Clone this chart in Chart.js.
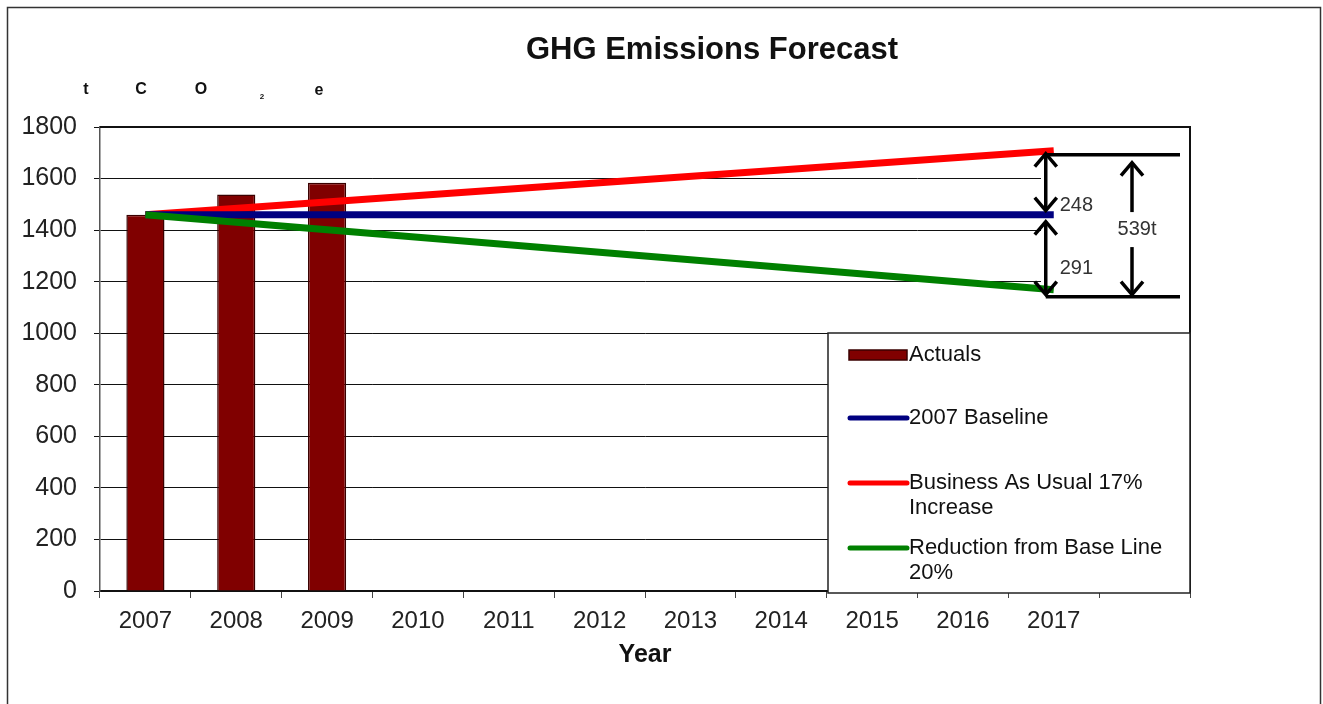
<!DOCTYPE html>
<html>
<head>
<meta charset="utf-8">
<script src="https://cdn.jsdelivr.net/npm/chart.js@4/dist/chart.umd.min.js"></script>
<style>
  html, body { margin: 0; padding: 0; background: #fff; }
  #wrap { width: 1323px; height: 704px; position: relative; }
</style>
</head>
<body>
<div id="wrap"><canvas id="chart" width="1323" height="704"></canvas></div>
<script>
const years = ["2007", "2008", "2009", "2010", "2011", "2012", "2013", "2014", "2015", "2016", "2017", ""];
const actuals = [1460, 1538, 1584, null, null, null, null, null, null, null, null, null];
const baseline = [1460, null, null, null, null, null, null, null, null, null, 1460, null];
const businessAsUsual = [1460, null, null, null, null, null, null, null, null, null, 1708, null];
const reduction = [1460, null, null, null, null, null, null, null, null, null, 1169, null];
const yTicks = [0, 200, 400, 600, 800, 1000, 1200, 1400, 1600, 1800];

const seriesNames = ["Actuals", "2007 Baseline", "Business As Usual 17% Increase", "Reduction from Base Line 20%"];
const seriesColors = ["#800000", "#000080", "#ff0000", "#008000"];

const increase = businessAsUsual[10] - baseline[10];
const decrease = baseline[10] - reduction[10];
const gap = increase + decrease;

const FONT = "Arial, 'Liberation Sans', sans-serif";

function vArrow(c, x, y1, y2, head1, head2) {
  c.beginPath();
  c.moveTo(x, y1);
  c.lineTo(x, y2);
  c.stroke();
  const h = 13, w = 11;
  if (head1) {
    c.beginPath();
    c.moveTo(x - w, y1 + h);
    c.lineTo(x, y1);
    c.lineTo(x + w, y1 + h);
    c.stroke();
  }
  if (head2) {
    c.beginPath();
    c.moveTo(x - w, y2 - h);
    c.lineTo(x, y2);
    c.lineTo(x + w, y2 - h);
    c.stroke();
  }
}

// frame, title, unit label, annotation block and legend
const decorations = {
  id: "decorations",
  beforeDraw(chart) {
    const c = chart.ctx;
    c.save();
    c.fillStyle = "#fff";
    c.fillRect(0, 0, chart.width, chart.height);
    c.strokeStyle = "#333";
    c.lineWidth = 1.5;
    c.strokeRect(7.5, 7.5, 1313, 720);

    c.fillStyle = "#111";
    c.font = "bold 31px " + FONT;
    c.textAlign = "center";
    c.textBaseline = "middle";
    c.fillText("GHG Emissions Forecast", 712, 50);

    c.font = "bold 16px " + FONT;
    c.fillText("t", 86, 90);
    c.fillText("C", 141, 90);
    c.fillText("O", 201, 90);
    c.font = "bold 8px " + FONT;
    c.fillText("2", 262, 97);
    c.font = "bold 16px " + FONT;
    c.fillText("e", 319, 91);
    c.restore();
  },
  beforeDatasetsDraw(chart) {
    const c = chart.ctx;
    const a = chart.chartArea;
    c.save();
    // plot border
    c.strokeStyle = "#111";
    c.lineWidth = 2;
    c.beginPath();
    c.moveTo(a.left, a.top);
    c.lineTo(a.right, a.top);
    c.lineTo(a.right, a.bottom);
    c.stroke();
    // blank block to the right of the forecast end
    c.fillStyle = "#fff";
    c.fillRect(1041, a.top + 2, a.right - 1042, 333 - a.top - 2);
    c.restore();
  },
  afterDatasetsDraw(chart) {
    const c = chart.ctx;
    const a = chart.chartArea;
    const y = chart.scales.y;
    const x = chart.scales.x;
    const xEnd = x.getPixelForValue(10) - 8;
    const yTop = y.getPixelForValue(businessAsUsual[10]);
    const yMid = y.getPixelForValue(baseline[10]);
    const yBot = y.getPixelForValue(reduction[10]);
    c.save();
    c.strokeStyle = "#000";
    c.lineWidth = 3.5;
    c.lineCap = "butt";
    c.beginPath();
    c.moveTo(xEnd, yTop + 4);
    c.lineTo(a.right - 10, yTop + 4);
    c.moveTo(xEnd, yBot + 7);
    c.lineTo(a.right - 10, yBot + 7);
    c.stroke();

    c.lineWidth = 3.5;
    c.lineJoin = "miter";
    vArrow(c, xEnd, yTop + 3, yMid - 4, true, true);
    vArrow(c, xEnd, yMid + 7, yBot + 5, true, true);
    const xGap = a.right - 58;
    const yLab = y.getPixelForValue(1404);
    vArrow(c, xGap, yTop + 12, yLab - 17, true, false);
    vArrow(c, xGap, yLab + 18, yBot + 5, false, true);

    c.fillStyle = "#333";
    c.font = "20px " + FONT;
    c.textBaseline = "middle";
    c.textAlign = "left";
    c.fillText(String(increase), xEnd + 14, y.getPixelForValue(1497));
    c.fillText(String(decrease), xEnd + 14, y.getPixelForValue(1253));
    c.textAlign = "center";
    c.fillText(gap + "t", xGap + 5, yLab);

    // legend
    const lx = 828, ly = 333, lw = a.right - lx, lh = 593 - ly;
    c.fillStyle = "#fff";
    c.fillRect(lx, ly, lw, lh);
    c.strokeStyle = "#222";
    c.lineWidth = 1.5;
    c.strokeRect(lx, ly, lw, lh);

    const rows = [
      { y: 355, lines: ["Actuals"] },
      { y: 418, lines: ["2007 Baseline"] },
      { y: 483, lines: ["Business As Usual 17%", "Increase"] },
      { y: 548, lines: ["Reduction from Base Line", "20%"] }
    ];
    rows.forEach((r, i) => {
      if (i === 0) {
        c.fillStyle = seriesColors[0];
        c.fillRect(849, r.y - 5, 58, 10);
        c.strokeStyle = "#3a0000";
        c.lineWidth = 1.5;
        c.strokeRect(849, r.y - 5, 58, 10);
      } else {
        c.strokeStyle = seriesColors[i];
        c.lineWidth = 5;
        c.lineCap = "round";
        c.beginPath();
        c.moveTo(850, r.y);
        c.lineTo(907, r.y);
        c.stroke();
      }
      c.fillStyle = "#111";
      c.font = "22px " + FONT;
      c.textAlign = "left";
      r.lines.forEach((t, k) => c.fillText(t, 909, r.y + k * 25));
    });
    c.restore();
  }
};

const ctx = document.getElementById("chart").getContext("2d");
new Chart(ctx, {
  data: {
    labels: years,
    datasets: [
      {
        type: "bar",
        label: seriesNames[0],
        data: actuals,
        backgroundColor: seriesColors[0],
        borderColor: "#3a0000",
        borderWidth: 1.5,
        barPercentage: 0.42,
        categoryPercentage: 1,
        order: 4
      },
      {
        type: "line",
        label: seriesNames[2],
        data: businessAsUsual,
        borderColor: seriesColors[2],
        borderWidth: 7,
        pointRadius: 0,
        spanGaps: true,
        order: 3
      },
      {
        type: "line",
        label: seriesNames[1],
        data: baseline,
        borderColor: seriesColors[1],
        borderWidth: 7,
        pointRadius: 0,
        spanGaps: true,
        order: 2
      },
      {
        type: "line",
        label: seriesNames[3],
        data: reduction,
        borderColor: seriesColors[3],
        borderWidth: 7,
        pointRadius: 0,
        spanGaps: true,
        order: 1
      }
    ]
  },
  options: {
    responsive: false,
    animation: false,
    events: [],
    layout: { padding: { left: 0, right: 133, top: 127, bottom: 13 } },
    plugins: {
      legend: { display: false },
      title: { display: false },
      tooltip: { enabled: false }
    },
    scales: {
      x: {
        offset: true,
        afterFit(scale) { scale.height = 100; },
        grid: {
          offset: true,
          drawOnChartArea: false,
          drawTicks: true,
          tickLength: 7,
          color: "#444",
          lineWidth: 1
        },
        border: { display: true, color: "#111", width: 2 },
        ticks: {
          color: "#222",
          font: { family: FONT, size: 24 },
          padding: 9,
          maxRotation: 0,
          autoSkip: false
        },
        title: {
          display: true,
          text: "Year",
          color: "#111",
          font: { family: FONT, size: 25, weight: "bold" },
          padding: { top: 0, bottom: 21 }
        }
      },
      y: {
        min: 0,
        max: 1800,
        afterFit(scale) { scale.width = 100; },
        afterBuildTicks(scale) { scale.ticks = yTicks.map(v => ({ value: v })); },
        grid: {
          color: "#111",
          lineWidth: 1,
          drawTicks: true,
          tickLength: 6
        },
        border: { display: true, color: "#555", width: 1.5 },
        ticks: {
          color: "#222",
          font: { family: FONT, size: 25 },
          padding: 17,
          callback: v => String(v)
        }
      }
    }
  },
  plugins: [decorations]
});
</script>
</body>
</html>
